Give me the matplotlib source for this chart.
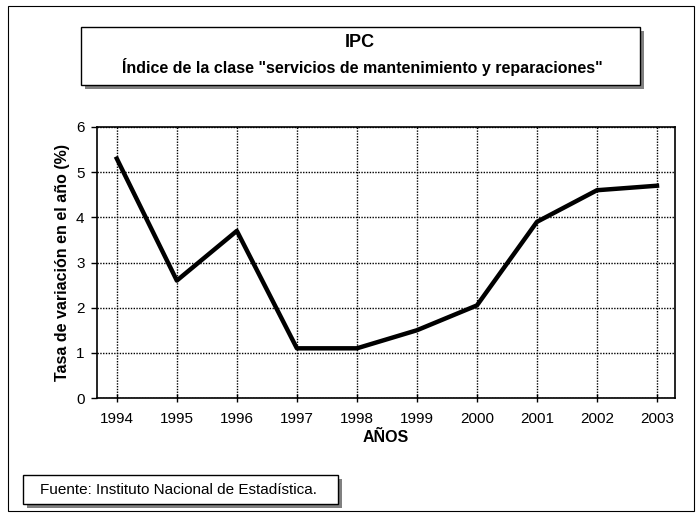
import matplotlib
matplotlib.use("Agg")
import matplotlib.pyplot as plt
from matplotlib.patches import Rectangle

plt.rcParams['font.family'] = ['Liberation Sans', 'DejaVu Sans']

years = [1994, 1995, 1996, 1997, 1998, 1999, 2000, 2001, 2002, 2003]
values = [5.3, 2.6, 3.7, 1.1, 1.1, 1.5, 2.05, 3.9, 4.6, 4.7]
yticks = [0, 1, 2, 3, 4, 5, 6]
title = "IPC"
subtitle = 'Índice de la clase "servicios de mantenimiento y reparaciones"'
ylabel = "Tasa de variación en el año (%)"
xlabel = "AÑOS"
source = "Fuente: Instituto Nacional de Estadística."

W, H = 699, 513
fig = plt.figure(figsize=(W / 100, H / 100), dpi=100)

def fx(px):
    return px / W

def fy(py):
    return 1 - py / H

# outer border
fig.patches.append(Rectangle((fx(8), fy(511)), fx(686), 505 / H, transform=fig.transFigure,
                             fill=False, edgecolor='black', linewidth=0.8))

def shadow_box(x0, y0, x1, y1, off=4):
    fig.patches.append(Rectangle((fx(x0 + off), fy(y1 + off)), fx(x1 - x0), (y1 - y0) / H,
                                 transform=fig.transFigure, facecolor='#808080', edgecolor='none'))
    fig.patches.append(Rectangle((fx(x0), fy(y1)), fx(x1 - x0), (y1 - y0) / H,
                                 transform=fig.transFigure, facecolor='white', edgecolor='black', linewidth=1.0))

shadow_box(81, 27, 640, 85)
fig.text(fx(360), fy(43), title, ha='center', va='center', fontsize=13, fontweight='bold')
fig.text(fx(362), fy(67), subtitle, ha='center', va='center', fontsize=11.5, fontweight='bold')

shadow_box(23, 475, 338, 504)
fig.text(fx(40), fy(489.5), source, ha='left', va='center', fontsize=11)

ax = fig.add_axes([fx(97), fy(398), fx(675 - 97), (398 - 127) / H])
ax.set_xlim(1993.67, 2003.3)
ax.set_ylim(0, 6)
ax.set_xticks(years)
ax.set_xticklabels([str(y) for y in years], fontsize=11)
ax.set_yticks(yticks)
ax.set_yticklabels([str(v) for v in yticks], fontsize=11)
ax.grid(True, color='black', linestyle=(0, (1, 1)), linewidth=1.0)
ax.set_axisbelow(True)
for s in ax.spines.values():
    s.set_linewidth(1.2)
ax.tick_params(axis='x', direction='inout', length=6, width=1, pad=7)
ax.tick_params(axis='y', direction='out', length=4, width=1, pad=5)
ax.set_xlabel(xlabel, fontsize=11.5, fontweight='bold', labelpad=3)
ax.set_ylabel(ylabel, fontsize=11.5, fontweight='bold', labelpad=4)

ax.plot(years, values, color='black', linewidth=3.2, solid_joinstyle='round', zorder=3)

fig.savefig("out.png", dpi=100)
